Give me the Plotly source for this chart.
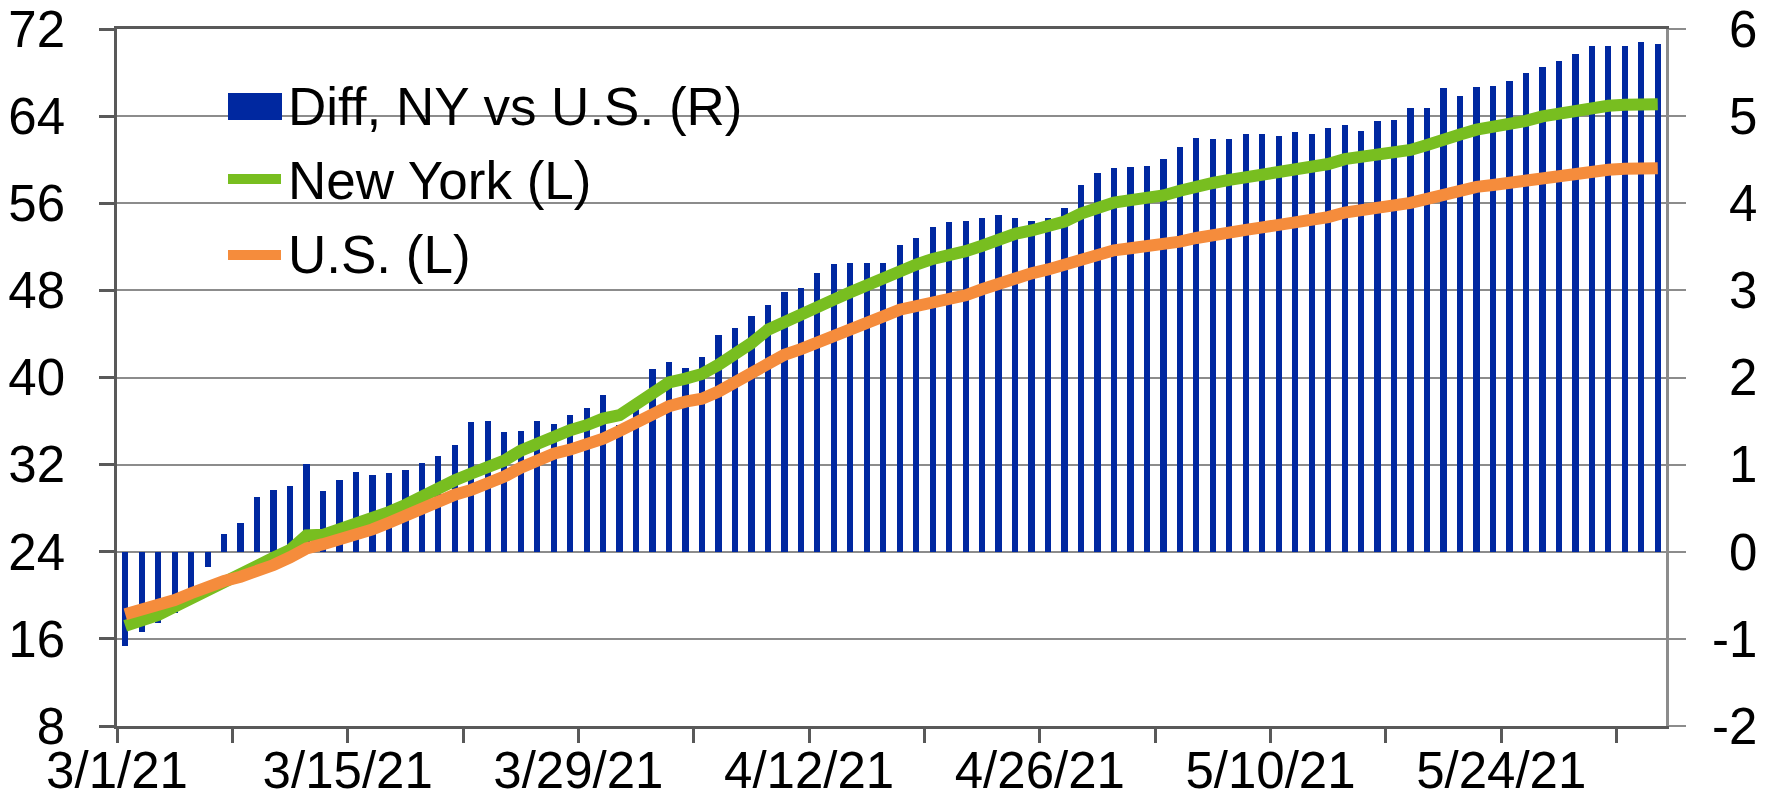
import pandas as pd
import plotly.graph_objects as go

# ---------------- data ----------------
start_date = "2021-03-01"
end_date = "2021-06-02"

diff_ny_vs_us = [
    -1.08, -0.92, -0.82, -0.70, -0.58, -0.17, 0.20, 0.33, 0.63, 0.71,
    0.75, 1.01, 0.70, 0.82, 0.92, 0.88, 0.90, 0.94, 1.02, 1.10,
    1.22, 1.49, 1.50, 1.38, 1.39, 1.50, 1.47, 1.57, 1.65, 1.80,
    1.46, 1.70, 2.10, 2.18, 2.11, 2.24, 2.49, 2.57, 2.71, 2.83,
    2.98, 3.03, 3.20, 3.30, 3.32, 3.32, 3.32, 3.52, 3.60, 3.73,
    3.78, 3.80, 3.83, 3.87, 3.83, 3.80, 3.83, 3.95, 4.21, 4.35,
    4.40, 4.42, 4.43, 4.51, 4.64, 4.75, 4.74, 4.74, 4.79, 4.80,
    4.77, 4.82, 4.80, 4.86, 4.90, 4.83, 4.94, 4.96, 5.09, 5.09,
    5.32, 5.23, 5.34, 5.35, 5.40, 5.49, 5.56, 5.63, 5.71, 5.81,
    5.80, 5.80, 5.85, 5.83,
]

new_york = [
    17.19, 17.68, 18.20, 18.96, 19.73, 20.55, 21.41, 21.96, 22.78, 23.45,
    24.16, 25.50, 25.55, 26.05, 26.45, 26.97, 27.64, 28.30, 29.10, 29.90,
    30.56, 31.18, 31.73, 32.37, 33.29, 33.99, 34.61, 35.16, 35.62, 36.23,
    36.54, 37.55, 38.69, 39.55, 39.90, 40.33, 41.17, 42.09, 43.16, 44.39,
    45.15, 45.77, 46.47, 47.15, 47.82, 48.53, 49.05, 49.91, 50.37, 50.89,
    51.15, 51.60, 52.10, 52.70, 53.20, 53.50, 53.83, 54.32, 55.05, 55.69,
    56.07, 56.29, 56.44, 56.72, 57.15, 57.58, 57.86, 58.14, 58.35, 58.60,
    58.80, 59.00, 59.26, 59.60, 60.05, 60.25, 60.45, 60.60, 60.90, 61.35,
    61.96, 62.32, 62.76, 62.99, 63.24, 63.57, 63.97, 64.28, 64.58, 64.89,
    64.95, 65.04, 65.10, 65.10,
]

us = [
    18.26, 18.66, 19.02, 19.57, 20.19, 20.80, 21.31, 21.71, 22.17, 22.78,
    23.49, 24.31, 24.70, 25.07, 25.53, 26.05, 26.66, 27.35, 28.00, 28.73,
    29.24, 29.68, 30.23, 30.90, 31.72, 32.46, 33.01, 33.38, 33.78, 34.39,
    35.10, 35.93, 36.75, 37.37, 37.78, 38.05, 38.71, 39.54, 40.34, 41.32,
    42.09, 42.61, 43.16, 43.77, 44.45, 45.06, 45.61, 46.23, 46.53, 46.84,
    47.10, 47.55, 48.10, 48.68, 49.20, 49.57, 49.92, 50.34, 50.83, 51.33,
    51.68, 51.87, 52.02, 52.19, 52.48, 52.81, 53.14, 53.44, 53.55, 53.78,
    54.00, 54.20, 54.43, 54.73, 55.15, 55.35, 55.50, 55.65, 56.03, 56.40,
    56.85, 57.22, 57.50, 57.68, 57.90, 58.15, 58.36, 58.61, 58.82, 59.00,
    59.07, 59.16, 59.22, 59.22,
]

x_tick_labels = ["3/1/21", "3/15/21", "3/29/21", "4/12/21", "4/26/21", "5/10/21", "5/24/21"]
y_left_ticks = [8, 16, 24, 32, 40, 48, 56, 64, 72]
y_right_ticks = [-2, -1, 0, 1, 2, 3, 4, 5, 6]
y_right_labels = ["-2", "-1", "0", "1", "2", "3", "4", "5", "6"]

series_names = ["Diff, NY vs U.S. (R)", "New York (L)", "U.S. (L)"]

# ---------------- styling ----------------
BLUE = "#0028A0"
GREEN = "#78BE20"
ORANGE = "#F58C3C"
AXIS_DARK = "#595959"
GRID = "#8c8c8c"
FONT = "Liberation Sans, Arial, sans-serif"
FS = 51
LEG_FS = 53

DAY_MS = 86400000
dates = pd.date_range(start_date, end_date, freq="D")
x_mid = dates + pd.Timedelta(hours=12)          # each day's bar centred in its day
x_range = [dates[0], dates[-1] + pd.Timedelta(days=1)]
major_vals = dates[::14][: len(x_tick_labels)]
weekly_vals = dates[::7]

W, H = 1776, 802
ML, MR, MT, MB = 117, 110, 29, 76
PW, PH = W - ML - MR, H - MT - MB


def pxx(x):
    return (x - ML) / PW


def pxy(y):
    return (H - MB - y) / PH


fig = go.Figure()

# bars on the primary (right-hand) axis, lines on the overlaying left axis so they sit on top
fig.add_trace(go.Bar(
    x=x_mid, y=diff_ny_vs_us, name=series_names[0], yaxis="y",
    marker=dict(color=BLUE, line=dict(width=0)), width=0.38 * DAY_MS,
    showlegend=False,
))
fig.add_trace(go.Scatter(
    x=x_mid, y=new_york, name=series_names[1], mode="lines", yaxis="y2",
    line=dict(color=GREEN, width=12), showlegend=False,
))
fig.add_trace(go.Scatter(
    x=x_mid, y=us, name=series_names[2], mode="lines", yaxis="y2",
    line=dict(color=ORANGE, width=12), showlegend=False,
))

tick_font = dict(family=FONT, size=FS, color="#000000")

fig.update_layout(
    template="none",
    width=W, height=H,
    margin=dict(l=ML, r=MR, t=MT, b=MB, pad=0),
    paper_bgcolor="white", plot_bgcolor="white",
    bargap=0,
    xaxis=dict(
        type="date", range=x_range, automargin=False,
        showline=True, linecolor=AXIS_DARK, linewidth=2.5, mirror=True,
        showgrid=False, zeroline=False,
        tickmode="array", tickvals=list(major_vals), ticktext=x_tick_labels,
        ticks="outside", ticklen=14, tickwidth=2.5, tickcolor=AXIS_DARK,
        minor=dict(tickmode="array", tickvals=list(weekly_vals), ticks="outside",
                   ticklen=14, tickwidth=2.5, tickcolor=AXIS_DARK, showgrid=False),
        tickfont=tick_font, ticklabelstandoff=-16,
    ),
    xaxis2=dict(
        type="date", range=x_range, overlaying="x", anchor="y", side="bottom",
        automargin=False,
        showline=False, showgrid=False, zeroline=False, showticklabels=False,
        tickmode="array", tickvals=list(weekly_vals),
        ticks="inside", ticklen=14, tickwidth=2.5, tickcolor=AXIS_DARK,
    ),
    yaxis=dict(
        range=[-2, 6], side="right", anchor="x", automargin=False,
        tickmode="array", tickvals=y_right_ticks,
        ticktext=[("" if t.startswith("-") else "\u2004") + t for t in y_right_labels],
        showline=True, linecolor=GRID, linewidth=2.5,
        showgrid=True, gridcolor=GRID, gridwidth=2, zeroline=False,
        ticks="outside", ticklen=17, tickwidth=2, tickcolor=GRID,
        tickfont=tick_font, ticklabelstandoff=16,
    ),
    yaxis2=dict(
        range=[8, 72], overlaying="y", side="left", anchor="x", automargin=False,
        tickmode="array", tickvals=y_left_ticks,
        ticktext=[str(v) for v in y_left_ticks],
        showline=True, linecolor=AXIS_DARK, linewidth=2.5,
        showgrid=False, zeroline=False,
        ticks="outside", ticklen=15, tickwidth=2.5, tickcolor=AXIS_DARK,
        tickfont=tick_font, ticklabelstandoff=24,
    ),
    yaxis3=dict(
        range=[8, 72], overlaying="y", anchor="x", side="left", automargin=False,
        tickmode="array", tickvals=y_left_ticks,
        showline=False, showgrid=False, zeroline=False, showticklabels=False,
        ticks="inside", ticklen=15, tickwidth=2.5, tickcolor=AXIS_DARK,
    ),
)

# ---------------- legend (drawn with shapes + text) ----------------
shapes = [
    dict(type="rect", xref="paper", yref="paper", layer="between",
         x0=pxx(215), x1=pxx(755), y0=pxy(300), y1=pxy(45),
         fillcolor="white", line=dict(width=0)),
    dict(type="rect", xref="paper", yref="paper", layer="above",
         x0=pxx(228), x1=pxx(282), y0=pxy(120), y1=pxy(93),
         fillcolor=BLUE, line=dict(width=0)),
    dict(type="line", xref="paper", yref="paper", layer="above",
         x0=pxx(228), x1=pxx(281), y0=pxy(179), y1=pxy(179),
         line=dict(color=GREEN, width=10)),
    dict(type="line", xref="paper", yref="paper", layer="above",
         x0=pxx(228), x1=pxx(281), y0=pxy(255), y1=pxy(255),
         line=dict(color=ORANGE, width=10)),
]
annotations = []
for name, yy in zip(series_names, [106, 180, 255]):
    annotations.append(dict(
        text=name, xref="paper", yref="paper", x=pxx(286), y=pxy(yy),
        xanchor="left", yanchor="middle", showarrow=False,
        font=dict(family=FONT, size=LEG_FS, color="#000000"),
    ))
fig.update_layout(shapes=shapes, annotations=annotations)

fig.write_html(
    "out.html",
    config={"displayModeBar": False},
    post_script="document.body.style.margin='0';document.body.style.overflow='hidden';",
)
